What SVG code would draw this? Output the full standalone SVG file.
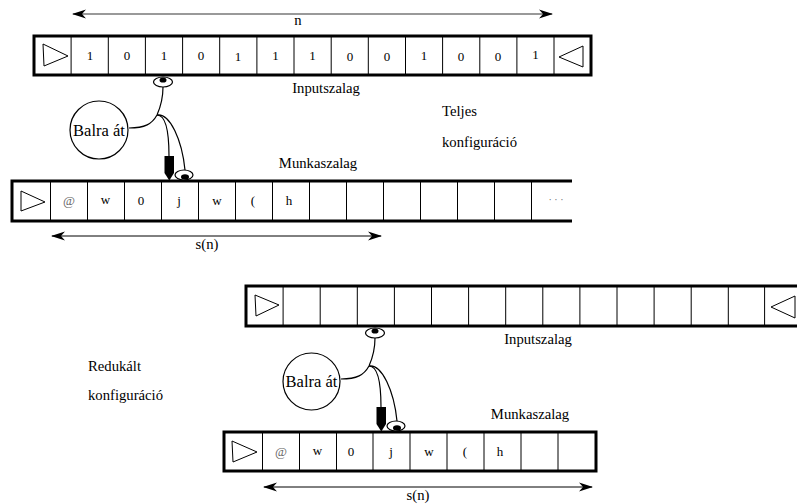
<svg xmlns="http://www.w3.org/2000/svg" width="797" height="504" viewBox="0 0 797 504" font-family="Liberation Serif, DejaVu Serif, serif">
<style>
text{font-family:'Liberation Serif','DejaVu Serif',serif;fill:#000}
.lbl{font-size:14.7px}
.cell{font-size:13px;text-anchor:middle}
.gray{fill:#666}
.border{fill:#fff;stroke:#000;stroke-width:3}
.div{stroke:#000;stroke-width:1}
.tri{fill:none;stroke:#000;stroke-width:1}
.ln{fill:none;stroke:#000;stroke-width:1.2}
.state{font-size:16.5px;text-anchor:middle}
</style>
<defs>
<marker id="ahg" viewBox="0 -5 14 10" refX="13" refY="0" markerWidth="14" markerHeight="10" markerUnits="userSpaceOnUse" orient="auto-start-reverse">
<path d="M0,-4.5 L14,0 L0,4.5 L4,0 Z" fill="#000"/>
</marker>
</defs>
<rect width="797" height="504" fill="#fff"/>

<!-- Top input tape -->
<g id="input-tape-1">
<rect class="border" x="34" y="36" width="557" height="39"/>
<g class="div">
<line x1="71.1" y1="37" x2="71.1" y2="74"/><line x1="108.3" y1="37" x2="108.3" y2="74"/><line x1="145.4" y1="37" x2="145.4" y2="74"/><line x1="182.6" y1="37" x2="182.6" y2="74"/><line x1="219.7" y1="37" x2="219.7" y2="74"/><line x1="256.9" y1="37" x2="256.9" y2="74"/><line x1="294" y1="37" x2="294" y2="74"/><line x1="331.2" y1="37" x2="331.2" y2="74"/><line x1="368.3" y1="37" x2="368.3" y2="74"/><line x1="405.5" y1="37" x2="405.5" y2="74"/><line x1="442.6" y1="37" x2="442.6" y2="74"/><line x1="479.8" y1="37" x2="479.8" y2="74"/><line x1="516.9" y1="37" x2="516.9" y2="74"/><line x1="554" y1="37" x2="554" y2="74"/>
</g>
<path class="tri" d="M43,44 L68,56 L44,66 Z"/>
<path class="tri" d="M583,46 L559,57 L583,67 Z"/>
<g opacity="0.999">
<text class="cell" x="90" y="60">1</text>
<text class="cell" x="127" y="60">0</text>
<text class="cell" x="164" y="60">1</text>
<text class="cell" x="201" y="60">0</text>
<text class="cell" x="238" y="61">1</text>
<text class="cell" x="275.5" y="60">1</text>
<text class="cell" x="312.5" y="60">1</text>
<text class="cell" x="350" y="61">0</text>
<text class="cell" x="387" y="61">0</text>
<text class="cell" x="424" y="60">1</text>
<text class="cell" x="461" y="61">0</text>
<text class="cell" x="498" y="61">0</text>
<text class="cell" x="535.5" y="59">1</text>
</g>
</g>

<!-- Top work tape -->
<g id="work-tape-1">
<rect x="12" y="181" width="560" height="40" fill="#fff"/>
<path d="M572,181 H12 V221 H572" fill="none" stroke="#000" stroke-width="3"/>
<g class="div">
<line x1="50.5" y1="182" x2="50.5" y2="220"/><line x1="87.5" y1="182" x2="87.5" y2="220"/><line x1="124.5" y1="182" x2="124.5" y2="220"/><line x1="161.5" y1="182" x2="161.5" y2="220"/><line x1="198.5" y1="182" x2="198.5" y2="220"/><line x1="235.5" y1="182" x2="235.5" y2="220"/><line x1="272.5" y1="182" x2="272.5" y2="220"/><line x1="309.5" y1="182" x2="309.5" y2="220"/><line x1="346.5" y1="182" x2="346.5" y2="220"/><line x1="383.5" y1="182" x2="383.5" y2="220"/><line x1="420.5" y1="182" x2="420.5" y2="220"/><line x1="457.5" y1="182" x2="457.5" y2="220"/><line x1="494.5" y1="182" x2="494.5" y2="220"/><line x1="531.5" y1="182" x2="531.5" y2="220"/>
</g>
<path class="tri" d="M21,191 L45,202 L21,211 Z"/>
<g opacity="0.999">
<text class="cell gray" x="69" y="205">@</text>
<text class="cell" x="105.5" y="204">w</text>
<text class="cell" x="141" y="205">0</text>
<text class="cell" x="179" y="205">j</text>
<text class="cell" x="217" y="205">w</text>
<text class="cell" x="253" y="205">(</text>
<text class="cell" x="289" y="205">h</text>
<text class="cell gray" x="556" y="203" style="font-size:10px">· · ·</text>
</g>
</g>

<!-- Head 1 -->
<g id="head-1">
<path class="ln" d="M129,128 C145,128 152,124 157,115 C161,106 163,96 163,87"/>
<path class="ln" d="M157,115 C165,115 169,130 169,156"/>
<path class="ln" d="M157,115 C170,113 182,140 185,170"/>
<ellipse cx="163" cy="82" rx="9.5" ry="5" fill="#fff" stroke="#000" stroke-width="1.2"/>
<ellipse cx="163" cy="80" rx="3.5" ry="2.6" fill="#000"/>
<path d="M164.5,156 H174 V173 L169.3,180.5 L164.5,173 Z" fill="#000"/>
<ellipse cx="184" cy="175" rx="9" ry="5" fill="#fff" stroke="#000" stroke-width="1.2"/>
<ellipse cx="185" cy="177" rx="4" ry="2.8" fill="#000"/>
</g>
<g id="state-1">
<circle cx="99" cy="130" r="29" fill="#fff" stroke="#000" stroke-width="1.2"/>
<text class="state" x="99" y="135.5">Balra át</text>
</g>

<!-- Bottom input tape -->
<g id="input-tape-2">
<rect class="border" x="246" y="286" width="557" height="40"/>
<g class="div">
<line x1="283.1" y1="287" x2="283.1" y2="325"/><line x1="320.2" y1="287" x2="320.2" y2="325"/><line x1="357.3" y1="287" x2="357.3" y2="325"/><line x1="394.4" y1="287" x2="394.4" y2="325"/><line x1="431.5" y1="287" x2="431.5" y2="325"/><line x1="468.6" y1="287" x2="468.6" y2="325"/><line x1="505.7" y1="287" x2="505.7" y2="325"/><line x1="542.8" y1="287" x2="542.8" y2="325"/><line x1="579.9" y1="287" x2="579.9" y2="325"/><line x1="617" y1="287" x2="617" y2="325"/><line x1="654.1" y1="287" x2="654.1" y2="325"/><line x1="691.2" y1="287" x2="691.2" y2="325"/><line x1="728.3" y1="287" x2="728.3" y2="325"/><line x1="764.6" y1="287" x2="764.6" y2="325"/>
</g>
<path class="tri" d="M255,295 L279,305 L256,316 Z"/>
<path class="tri" d="M795,296 L771,307 L795,318 Z"/>
</g>

<!-- Bottom work tape -->
<g id="work-tape-2">
<rect class="border" x="224" y="432" width="372" height="39"/>
<g class="div">
<line x1="262.5" y1="433" x2="262.5" y2="470"/><line x1="299.5" y1="433" x2="299.5" y2="470"/><line x1="336.5" y1="433" x2="336.5" y2="470"/><line x1="373" y1="433" x2="373" y2="470"/><line x1="410" y1="433" x2="410" y2="470"/><line x1="447" y1="433" x2="447" y2="470"/><line x1="484" y1="433" x2="484" y2="470"/><line x1="521" y1="433" x2="521" y2="470"/><line x1="558" y1="433" x2="558" y2="470"/>
</g>
<path class="tri" d="M232,441 L257,452 L233,462 Z"/>
<g opacity="0.999">
<text class="cell gray" x="281" y="456">@</text>
<text class="cell" x="317.5" y="455">w</text>
<text class="cell" x="351" y="456">0</text>
<text class="cell" x="391" y="456">j</text>
<text class="cell" x="429" y="456">w</text>
<text class="cell" x="465" y="456">(</text>
<text class="cell" x="500" y="456">h</text>
</g>
</g>

<!-- Head 2 -->
<g id="head-2" transform="translate(212,251)">
<path class="ln" d="M129,128 C145,128 152,124 157,115 C161,106 163,96 163,87"/>
<path class="ln" d="M157,115 C165,115 169,130 169,156"/>
<path class="ln" d="M157,115 C170,113 182,140 185,170"/>
<ellipse cx="163" cy="82" rx="9.5" ry="5" fill="#fff" stroke="#000" stroke-width="1.2"/>
<ellipse cx="163" cy="80" rx="3.5" ry="2.6" fill="#000"/>
<path d="M164.5,156 H174 V173 L169.3,180.5 L164.5,173 Z" fill="#000"/>
<ellipse cx="184" cy="175" rx="9" ry="5" fill="#fff" stroke="#000" stroke-width="1.2"/>
<ellipse cx="185" cy="177" rx="4" ry="2.8" fill="#000"/>
</g>
<g id="state-2">
<circle cx="311.5" cy="381.5" r="28.5" fill="#fff" stroke="#000" stroke-width="1.2"/>
<text class="state" x="311.5" y="387">Balra át</text>
</g>

<!-- Connectors / dimension arrows -->
<g id="connectors">
<line x1="73" y1="14" x2="552" y2="14" stroke="#777" stroke-width="1.6" marker-start="url(#ahg)" marker-end="url(#ahg)"/>
<line x1="52" y1="236" x2="381" y2="236" stroke="#000" stroke-width="1" marker-start="url(#ahg)" marker-end="url(#ahg)"/>
<line x1="264" y1="487" x2="592" y2="487" stroke="#000" stroke-width="1" marker-start="url(#ahg)" marker-end="url(#ahg)"/>
</g>

<!-- Labels -->
<g id="labels" opacity="0.999">
<text class="lbl" x="298" y="25" text-anchor="middle">n</text>
<text class="lbl" x="326" y="93" text-anchor="middle">Inputszalag</text>
<text class="lbl" x="318" y="168" text-anchor="middle">Munkaszalag</text>
<text class="lbl" x="207" y="248.5" text-anchor="middle">s(n)</text>
<text class="lbl" x="442" y="116">Teljes</text>
<text class="lbl" x="442" y="147">konfiguráció</text>
<text class="lbl" x="538" y="344" text-anchor="middle">Inputszalag</text>
<text class="lbl" x="530" y="419" text-anchor="middle">Munkaszalag</text>
<text class="lbl" x="418" y="500" text-anchor="middle">s(n)</text>
<text class="lbl" x="88" y="371">Redukált</text>
<text class="lbl" x="88" y="400">konfiguráció</text>
</g>
</svg>
